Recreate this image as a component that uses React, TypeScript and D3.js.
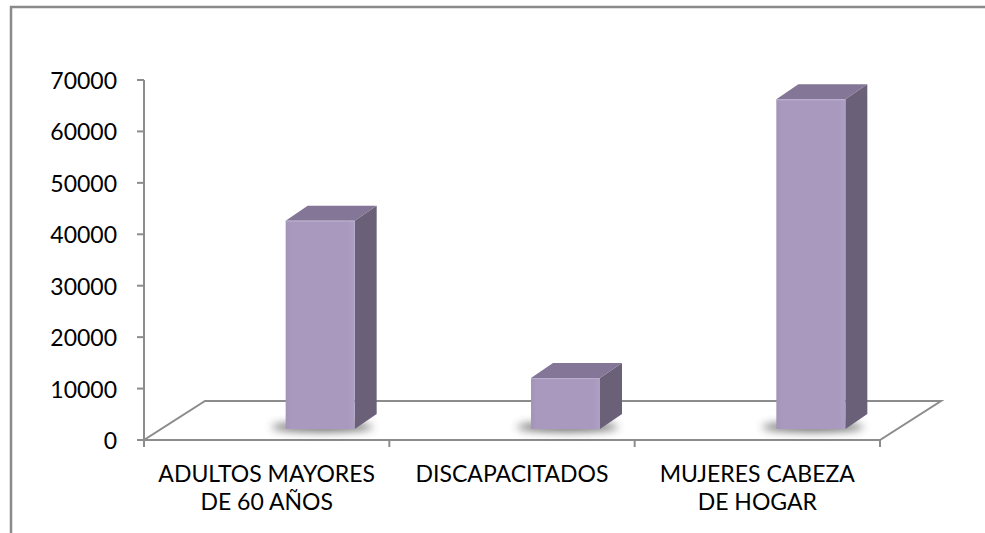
import * as d3 from "d3";

// chart data
const categories = ["ADULTOS MAYORES\nDE 60 AÑOS", "DISCAPACITADOS", "MUJERES CABEZA\nDE HOGAR"];
const values = [40500, 9900, 64100];
const yTicks = [0, 10000, 20000, 30000, 40000, 50000, 60000, 70000];

const WIDTH = 985;
const HEIGHT = 533;
const FONT = "Lato, 'Open Sans', sans-serif";

// 3d floor depth + bar geometry
const FLOOR_DX = 61;
const FLOOR_DY = 39;
const BAR_LIFT = 11; // bar base sits a bit behind the front edge
const BAR_SHIFT = 19; // bar front face is pushed right of band centre
const BAR_W = 69;
const SIDE_DX = 22;
const SIDE_DY = 15;

const App = () => {
  const x = d3.scaleBand<string>().domain(categories).range([144, 880]);
  const y = d3.scaleLinear().domain([0, 70000]).range([440, 80]);

  const x0 = x.range()[0];
  const x1 = x.range()[1];
  const y0 = y(0);
  const mid = (c: string) => (x(c) as number) + x.bandwidth() / 2;

  const floor = [
    [x0, y0],
    [x1, y0],
    [x1 + FLOOR_DX, y0 - FLOOR_DY],
    [x0 + FLOOR_DX, y0 - FLOOR_DY],
  ];

  const pts = (p: number[][]) => p.map((d) => d.join(",")).join(" ");

  return (
    <svg
      width={WIDTH}
      height={HEIGHT}
      style={{ position: "absolute", left: 0, top: 0, background: "#fff" }}
    >
      <defs>
        <linearGradient id="front" x1="0" x2="1" y1="0" y2="0">
          <stop offset="0" stopColor="#a293b7" />
          <stop offset="0.08" stopColor="#a999bf" />
          <stop offset="0.9" stopColor="#a999bf" />
          <stop offset="1" stopColor="#ae9fc4" />
        </linearGradient>
        <filter id="blur" x="-50%" y="-100%" width="200%" height="300%">
          <feGaussianBlur stdDeviation="4" />
        </filter>
      </defs>

      {/* outer chart border */}
      <path d={`M11,${HEIGHT} L11,7 L${WIDTH},7`} fill="none" stroke="#8a8a8a" strokeWidth={2.5} />

      {/* floor */}
      <polygon points={pts(floor)} fill="none" stroke="#8c8c8c" strokeWidth={2} />

      {/* value axis */}
      <line x1={x0} x2={x0} y1={y(70000)} y2={y0 + 7} stroke="#8c8c8c" strokeWidth={2} />
      {yTicks.map((t) => (
        <g key={t}>
          <line x1={x0 - 7} x2={x0} y1={y(t)} y2={y(t)} stroke="#8c8c8c" strokeWidth={2} />
          <text
            x={117}
            y={y(t) + 9}
            textAnchor="end"
            fontFamily={FONT}
            fontSize={23}
            fill="#000"
          >
            {t}
          </text>
        </g>
      ))}

      {/* category ticks */}
      {[...categories.map((c) => x(c) as number), x1].map((cx, i) => (
        <line key={i} x1={cx} x2={cx} y1={y0} y2={y0 + 7} stroke="#8c8c8c" strokeWidth={2} />
      ))}

      {/* bars */}
      {categories.map((c, i) => {
        const left = mid(c) + BAR_SHIFT;
        const right = left + BAR_W;
        const base = y0 - BAR_LIFT;
        const top = y(values[i]) - BAR_LIFT;
        const side = [
          [right, top],
          [right + SIDE_DX, top - SIDE_DY],
          [right + SIDE_DX, base - SIDE_DY],
          [right, base],
        ];
        const lid = [
          [left, top],
          [left + SIDE_DX, top - SIDE_DY],
          [right + SIDE_DX, top - SIDE_DY],
          [right, top],
        ];
        return (
          <g key={c}>
            <ellipse
              cx={left + BAR_W / 2 + 2}
              cy={base - 2}
              rx={BAR_W / 2 + 16}
              ry={5}
              fill="#3a3a3a"
              opacity={0.75}
              filter="url(#blur)"
            />
            <polygon points={pts(side)} fill="#6a6077" strokeLinejoin="round" />
            <polygon points={pts(lid)} fill="#837696" />
            <rect x={left} y={top} width={BAR_W} height={base - top} fill="url(#front)" />
            <line x1={left} x2={right} y1={top + 0.5} y2={top + 0.5} stroke="#b9aece" strokeWidth={1} />
          </g>
        );
      })}

      {/* category labels */}
      {categories.map((c) =>
        c.split("\n").map((line, j) => (
          <text
            key={c + j}
            x={mid(c)}
            y={482 + j * 28}
            textAnchor="middle"
            fontFamily={FONT}
            fontSize={23}
            fill="#000"
          >
            {line}
          </text>
        ))
      )}
    </svg>
  );
};

export default App;
